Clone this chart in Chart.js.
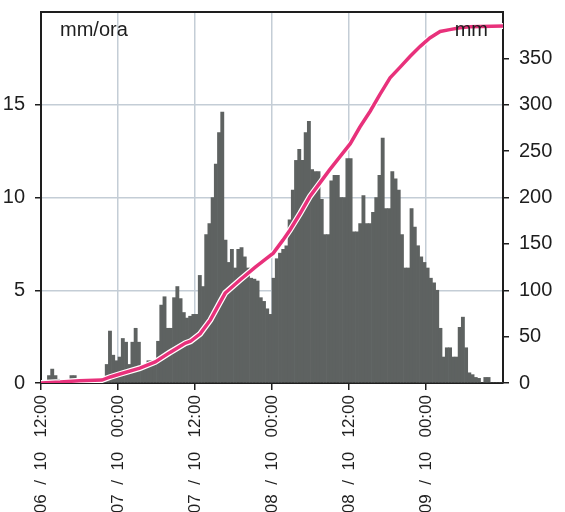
<!DOCTYPE html>
<html>
<head>
<meta charset="utf-8">
<script src="https://cdn.jsdelivr.net/npm/chart.js@4"></script>
<style>
  html, body { margin: 0; padding: 0; background: #fff; overflow: hidden; }
  canvas { display: block; }
</style>
</head>
<body>
<canvas id="rainChart" width="565" height="512"></canvas>
<script>

/* DATA */

// rain intensity (mm/ora), one value every 30 minutes from 06/10 12:00
const rainStep = 0.5;

const rainRate = [
  0, 0, 0.4, 0.75, 0.4, 0.2, 0, 0, 0, 0.4,
  0.4, 0, 0, 0, 0, 0, 0, 0, 0, 0,
  1.0, 2.8, 1.5, 1.2, 1.4, 2.4, 2.2, 1.0, 2.2, 2.95,
  2.2, 0.85, 0.85, 1.2, 1.2, 1.2, 2.25, 4.2, 4.65, 2.95,
  2.95, 4.6, 5.2, 4.55, 3.8, 3.5, 3.6, 3.7, 3.7, 5.8,
  5.2, 8.0, 8.6, 10.0, 11.8, 13.5, 14.6, 7.7, 6.5, 7.2,
  6.2, 7.2, 7.3, 6.8, 6.2, 5.65, 5.6, 5.5, 4.6, 4.4,
  4.0, 3.7, 5.65, 6.7, 7.0, 7.2, 7.4, 8.8, 10.4, 12.0,
  12.6, 12.0, 13.5, 14.1, 11.5, 11.4, 11.4, 9.9, 8.0, 8.0,
  10.9, 11.2, 11.2, 10.0, 10.0, 12.1, 12.1, 8.15, 8.15, 8.6,
  10.1, 8.6, 8.6, 9.2, 10.0, 11.2, 13.2, 9.4, 9.4, 11.4,
  11.0, 10.4, 8.0, 6.2, 6.2, 9.4, 8.4, 7.4, 6.8, 6.5,
  6.2, 5.65, 5.4, 5.0, 2.95, 1.4, 1.9, 1.9, 1.4, 1.4,
  3.0, 3.55, 1.9, 0.55, 0.45, 0.3, 0.25, 0, 0.3, 0.3,
  0, 0, 0, 0
];

// cumulative rain (mm); hours from 06/10 12:00
const cumHours = [
  0, 3, 6, 9.5, 10.8, 12.3, 15.4, 17.8, 20.1, 22.5,
  23.3, 24.8, 26.4, 27.9, 28.7, 31, 33.4, 34.9, 36.2, 37.7,
  38.8, 40.4, 41.9, 43.5, 45, 46.6, 48.2, 49.7, 51.3, 52.8,
  54.4, 55.9, 57.5, 59.1, 60.6, 62.2, 63.7, 65.3, 66.8, 72
];

const cumRain = [
  0, 1, 2.5, 3.2, 6.5, 9.7, 16, 22.7, 33, 43,
  45, 53, 68, 87, 97, 111, 125, 133, 140, 154,
  165, 183, 201, 216, 230, 244, 258, 276, 293, 311,
  329, 340, 352, 363, 372, 379, 381, 383, 384, 385
];

// x ticks (hours from start) and their labels
const tickHours = [0, 12, 24, 36, 48, 60];

const tickLabels = [
  "06  /  10   12:00",
  "07  /  10   00:00",
  "07  /  10   12:00",
  "08  /  10   00:00",
  "08  /  10   12:00",
  "09  /  10   00:00"
];

const rateTicks = [0, 5, 10, 15];
const totalTicks = [0, 50, 100, 150, 200, 250, 300, 350];

/* STYLE */

const FONT = "'Liberation Sans', Arial, sans-serif";
const DARK = "#1e1e1e";
const GRID = "#c4cdd6";
const BAR = "#5e6261";
const PINK = "#e8317b";

/* POINTS */

const barPoints = rainRate.map((v, i) => ({
  x: i * rainStep + rainStep / 2,
  y: v
}));

const linePoints = cumHours.map((h, i) => ({
  x: h,
  y: cumRain[i]
}));

/* NO EDGE PADDING */

function noPad(s) {
  s.paddingTop = 0;
  s.paddingBottom = 0;
  s.paddingLeft = 0;
  s.paddingRight = 0;
}

/* UNIT LABELS */

const unitLabels = {
  id: "unitLabels",
  afterDatasetsDraw(chart) {
    const { ctx, chartArea } = chart;
    ctx.save();
    ctx.font = "20px " + FONT;
    ctx.fillStyle = DARK;
    ctx.textBaseline = "middle";
    ctx.textAlign = "left";
    ctx.fillText("mm/ora", chartArea.left + 19, chartArea.top + 18);
    ctx.textAlign = "right";
    ctx.fillText("mm", chartArea.right - 15, chartArea.top + 18);
    ctx.restore();
  }
};

/* CHART */

new Chart(document.getElementById("rainChart"), {
  data: {
    datasets: [
      {
        type: "line",
        data: linePoints,
        yAxisID: "y2",
        borderColor: PINK,
        borderWidth: 3.5,
        pointRadius: 0,
        tension: 0,
        order: 0
      },
      {
        type: "line",
        data: linePoints,
        yAxisID: "y2",
        borderColor: "#ffffff",
        borderWidth: 6,
        pointRadius: 0,
        tension: 0,
        order: 1
      },
      {
        type: "bar",
        data: barPoints,
        yAxisID: "y",
        backgroundColor: BAR,
        borderWidth: 0,
        barPercentage: 1,
        categoryPercentage: 1,
        order: 2
      }
    ]
  },
  options: {
    responsive: false,
    animation: false,
    layout: { padding: 0 },
    plugins: {
      legend: { display: false },
      tooltip: { enabled: false }
    },
    scales: {
      x: {
        type: "linear",
        position: "bottom",
        min: 0,
        max: 72,
        offset: false,
        afterBuildTicks: (s) => { s.ticks = tickHours.map(v => ({ value: v })); },
        afterFit: (s) => { s.height = 129; noPad(s); },
        grid: {
          offset: false,
          color: GRID,
          lineWidth: 1.5,
          tickColor: DARK,
          tickLength: 7
        },
        border: { color: DARK, width: 2 },
        ticks: {
          minRotation: 90,
          maxRotation: 90,
          autoSkip: false,
          padding: 5,
          color: DARK,
          font: { family: FONT, size: 17 },
          callback: (v) => tickLabels[tickHours.indexOf(v)]
        }
      },
      x2: {
        type: "linear",
        position: "top",
        min: 0,
        max: 72,
        offset: false,
        afterFit: (s) => { s.height = 12; noPad(s); },
        grid: { display: false },
        ticks: { display: false },
        border: { color: DARK, width: 2 }
      },
      y: {
        position: "left",
        min: 0,
        max: 20,
        afterBuildTicks: (s) => { s.ticks = rateTicks.map(v => ({ value: v })); },
        afterFit: (s) => { s.width = 41; noPad(s); },
        grid: {
          color: GRID,
          lineWidth: 1.5,
          tickColor: DARK,
          tickLength: 6
        },
        border: { color: DARK, width: 2 },
        ticks: {
          padding: 10,
          color: DARK,
          font: { family: FONT, size: 20 }
        }
      },
      y2: {
        position: "right",
        min: 0,
        max: 400,
        afterBuildTicks: (s) => { s.ticks = totalTicks.map(v => ({ value: v })); },
        afterFit: (s) => { s.width = 62; noPad(s); },
        grid: {
          drawOnChartArea: false,
          tickColor: DARK,
          tickLength: 6,
          lineWidth: 1.5
        },
        border: { color: DARK, width: 2 },
        ticks: {
          padding: 10,
          color: DARK,
          font: { family: FONT, size: 20 }
        }
      }
    }
  },
  plugins: [unitLabels]
});
</script>
</body>
</html>
